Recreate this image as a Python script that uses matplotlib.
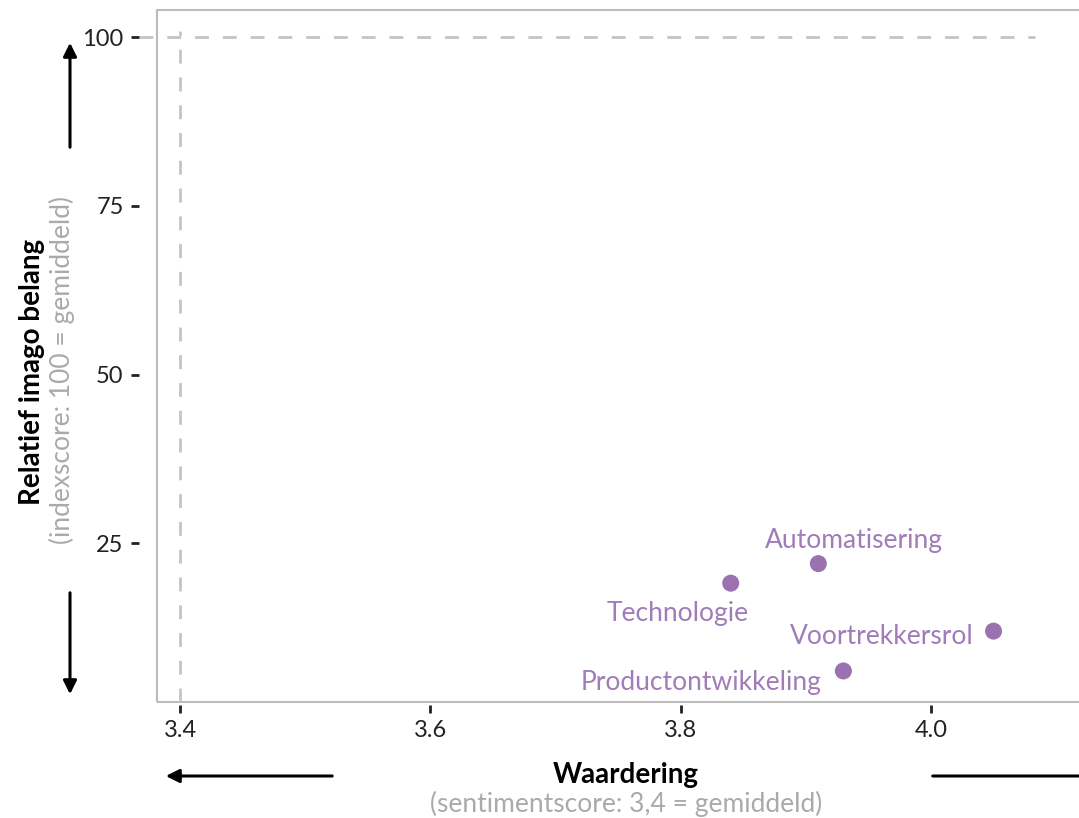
import matplotlib
matplotlib.use("Agg")
import matplotlib.pyplot as plt
from matplotlib.patches import FancyArrowPatch, Rectangle

# data
labels = ["Automatisering", "Technologie", "Voortrekkersrol", "Productontwikkeling"]
waardering = [3.91, 3.84, 4.05, 3.93]
imago = [22.0, 19.1, 12.0, 6.1]
# label offsets in pixels (dx, dy) and alignment
offsets = [(36, 23, "center"), (-53, -30, "center"), (-20, -5, "right"), (-22, -12, "right")]

x_ticks = [3.4, 3.6, 3.8, 4.0]
y_ticks = [25, 50, 75, 100]

purple = "#9b72b0"
grey = "#bbbbbb"
font = "Lato"

plt.rcParams["font.family"] = [font, "DejaVu Sans"]

fig = plt.figure(figsize=(10.79, 8.18), dpi=100)
ax = fig.add_axes([157 / 1079, 1 - 702 / 818, 1 - 157 / 1079 + 0.002, (702 - 10) / 818])

ax.set_xlim(3.3816, 4.12)
ax.set_ylim(1.5, 104.0)

# reference lines
ax.axvline(3.4, ymax=0.97, color="#c4c4c4", lw=2, ls=(0, (5, 5)), zorder=1)
ax.axhline(100, xmin=-0.02, xmax=0.95, color="#c4c4c4", lw=2, ls=(0, (5, 5)), zorder=1, clip_on=False)

ax.scatter(waardering, imago, s=150, color=purple, zorder=3, edgecolors="none")
for lab, x, y, (dx, dy, ha) in zip(labels, waardering, imago, offsets):
    ax.annotate(lab, (x, y), xytext=(dx, dy), textcoords="offset pixels", ha=ha, va="center",
                color="#a07cb8", fontsize=19)

ax.set_xticks(x_ticks)
ax.set_xticklabels([f"{t:.1f}" for t in x_ticks])
ax.set_yticks(y_ticks)
ax.tick_params(length=6, width=2, color="#222222", labelsize=17, labelcolor="#222222", pad=5)

# frame drawn separately so the ticks can sit detached from it
for side in ["left", "bottom", "top", "right"]:
    ax.spines[side].set_visible(False)
ax.spines["left"].set_position(("outward", 13))
ax.spines["bottom"].set_position(("outward", 2))
ax.add_patch(Rectangle((0, 0), 1, 1, transform=ax.transAxes, fill=False, ec=grey, lw=1.5,
                       clip_on=False, zorder=0))

# axis titles
fig.text(32 / 1079, 1 - 372 / 818, "Relatief imago belang", rotation=90, ha="center", va="center",
         fontsize=20, fontweight="bold", color="black")
fig.text(62 / 1079, 1 - 370 / 818, "(indexscore: 100 = gemiddeld)", rotation=90, ha="center", va="center",
         fontsize=19, color="#aaaaaa")
fig.text(626 / 1079, 1 - 775 / 818, "Waardering", ha="center", va="center",
         fontsize=20, fontweight="bold", color="black")
fig.text(626 / 1079, 1 - 804 / 818, "(sentimentscore: 3,4 = gemiddeld)", ha="center", va="center",
         fontsize=19, color="#aaaaaa")

# direction arrows
arrow = dict(arrowstyle="-|>", color="black", lw=2.2, mutation_scale=20)
fig.add_artist(FancyArrowPatch((70 / 1079, 1 - 150 / 818), (70 / 1079, 1 - 40 / 818),
                               transform=fig.transFigure, **arrow))
fig.add_artist(FancyArrowPatch((70 / 1079, 1 - 590 / 818), (70 / 1079, 1 - 697 / 818),
                               transform=fig.transFigure, **arrow))
fig.add_artist(FancyArrowPatch((335 / 1079, 1 - 776 / 818), (163 / 1079, 1 - 776 / 818),
                               transform=fig.transFigure, **arrow))
fig.add_artist(FancyArrowPatch((930 / 1079, 1 - 776 / 818), (1110 / 1079, 1 - 776 / 818),
                               transform=fig.transFigure, **arrow))

fig.savefig("out.png", dpi=100)
